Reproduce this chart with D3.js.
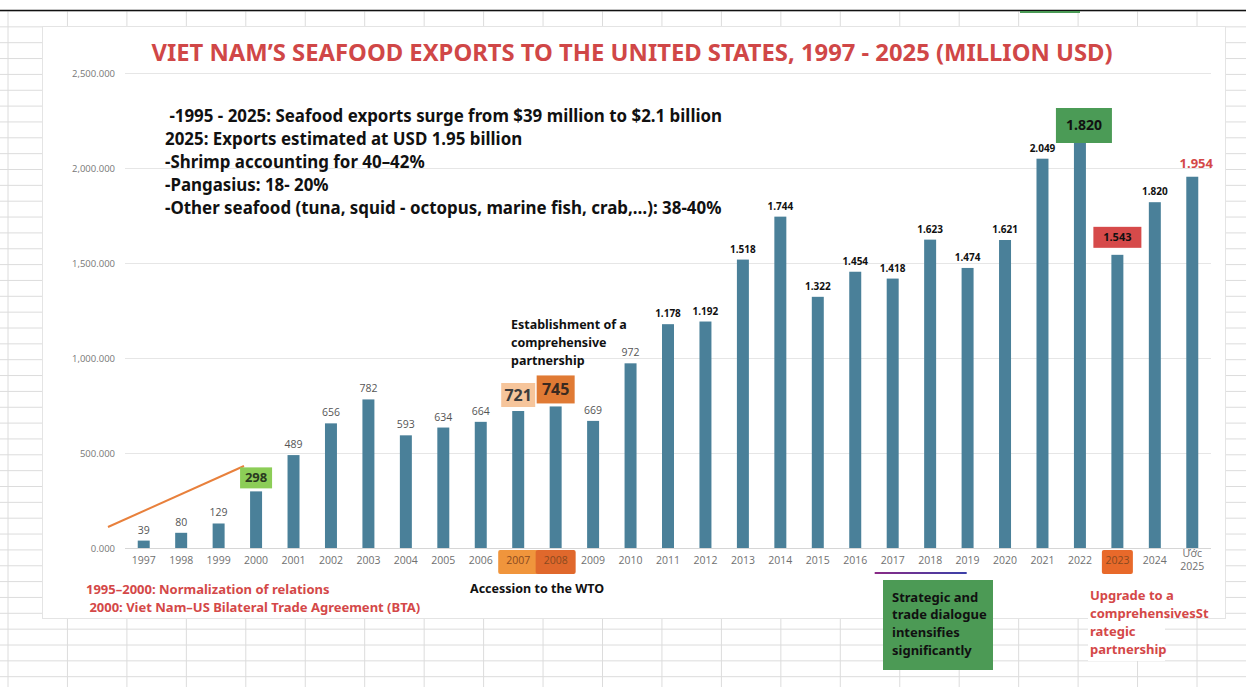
<!DOCTYPE html>
<html>
<head>
<meta charset="utf-8">
<script src="https://cdn.jsdelivr.net/npm/d3@7"></script>
<style>
  body { margin: 0; background: #fff; }
  svg { display: block; font-family: "Noto Sans", "Open Sans", sans-serif; }
</style>
</head>
<body>
<div id="chart"></div>
<script>
// data (million USD)
const years = ["1997","1998","1999","2000","2001","2002","2003","2004","2005","2006",
               "2007","2008","2009","2010","2011","2012","2013","2014","2015","2016",
               "2017","2018","2019","2020","2021","2022","2023","2024","Ước 2025"]
const exportsUS = [39,80,129,298,489,656,782,593,634,664,
                   721,745,669,972,1178,1192,1518,1744,1322,1454,
                   1418,1623,1474,1621,2049,2160,1543,1820,1954]
const valueLabels = ["39","80","129","298","489","656","782","593","634","664",
                     "721","745","669","972","1.178","1.192","1.518","1.744","1.322","1.454",
                     "1.418","1.623","1.474","1.621","2.049","1.820","1.543","1.820","1.954"]
const yTicks = [0,500,1000,1500,2000,2500]
const yTickLabels = ["0.000","500.000","1,000.000","1,500.000","2,000.000","2,500.000"]

const titleText = "VIET NAM\u2019S SEAFOOD EXPORTS TO THE UNITED STATES, 1997 - 2025 (MILLION USD)"
const notes = [" -1995 - 2025: Seafood exports surge from $39 million to $2.1 billion",
               "2025: Exports estimated at USD 1.95 billion",
               "-Shrimp accounting for 40\u201342%",
               "-Pangasius: 18- 20%",
               "-Other seafood (tuna, squid - octopus, marine fish, crab,\u2026): 38-40%"]
const btaNotes = ["1995\u20132000: Normalization of relations",
                  " 2000: Viet Nam\u2013US Bilateral Trade Agreement (BTA)"]
const partnershipNote = ["Establishment of a","comprehensive","partnership"]
const wtoNote = "Accession to the WTO"
const dialogueNote = ["Strategic and","trade dialogue","intensifies","significantly"]
const upgradeNote = ["Upgrade to a","comprehensivesSt","rategic","partnership"]

const W = 1246, H = 687
const plot = { left: 125, right: 1211, top: 73, bottom: 548 }

const svg = d3.select("#chart").append("svg")
    .attr("width", W).attr("height", H)

// ---- spreadsheet backdrop ----
const sheet = svg.append("g")
for (let yy = 11; yy < H; yy += 15.85) {
  sheet.append("line").attr("x1", 0).attr("x2", W).attr("y1", yy).attr("y2", yy)
       .attr("stroke", "#dcdcdc").attr("stroke-width", 1)
}
for (let xx = 8; xx < W; xx += 59.45) {
  sheet.append("line").attr("x1", xx).attr("x2", xx).attr("y1", 11).attr("y2", H)
       .attr("stroke", "#dcdcdc").attr("stroke-width", 1)
}
sheet.append("line").attr("x1", 0).attr("x2", W).attr("y1", 10.5).attr("y2", 10.5)
     .attr("stroke", "#111").attr("stroke-width", 1.5)
sheet.append("rect").attr("x", 1020).attr("y", 11).attr("width", 60).attr("height", 2)
     .attr("fill", "#4a9a55")

// chart area
svg.append("rect").attr("x", 42.5).attr("y", 26.5).attr("width", 1183).attr("height", 592)
   .attr("fill", "#fff").attr("stroke", "#e4e4e4")

// ---- scales ----
const x = d3.scaleBand().domain(years).range([plot.left, plot.right]).paddingInner(0.68).paddingOuter(0.34)
const y = d3.scaleLinear().domain([0, 2500]).range([plot.bottom, plot.top])

// grid + y axis
svg.append("g").selectAll("line").data(yTicks).join("line")
   .attr("x1", plot.left).attr("x2", plot.right)
   .attr("y1", d => y(d) + 0.5).attr("y2", d => y(d) + 0.5)
   .attr("stroke", d => d === 0 ? "#d6d6d6" : "#e6e6e6")

const yAxis = svg.append("g").attr("transform", "translate(" + plot.left + ",0)")
   .call(d3.axisLeft(y).tickValues(yTicks).tickFormat((d, i) => yTickLabels[i]).tickSize(0).tickPadding(10))
yAxis.select(".domain").remove()
yAxis.selectAll("text").attr("fill", "#777").attr("font-size", "9.5px")
     .attr("font-family", "'Open Sans', sans-serif")

// ---- highlighted x labels ----
const xCenter = d => x(d) + x.bandwidth() / 2
const xBoxes = [
  { year: "2007", fill: "#f0953c", w: 40 },
  { year: "2008", fill: "#e0682c", w: 40 },
  { year: "2023", fill: "#e8692a", w: 31 }
]
svg.append("g").selectAll("rect").data(xBoxes).join("rect")
   .attr("x", d => xCenter(d.year) - d.w / 2).attr("y", 550)
   .attr("width", d => d.w).attr("height", 24).attr("rx", 2)
   .attr("fill", d => d.fill)

// x axis
const xAxis = svg.append("g").attr("transform", "translate(0," + plot.bottom + ")")
   .call(d3.axisBottom(x).tickSize(0).tickPadding(9))
xAxis.select(".domain").remove()
xAxis.selectAll("text")
   .attr("fill", d => (d === "2007" || d === "2008" || d === "2023") ? "#8a4a20" : "#707070")
   .attr("font-size", "10.5px")
   .attr("font-family", "'Open Sans', sans-serif")
   .each(function (d) {
     const parts = d.split(" ")
     if (parts.length > 1) {
       const t = d3.select(this).text(null)
       parts.forEach((p, i) => t.append("tspan").attr("x", 0).attr("dy", i ? "1.25em" : 0).text(p))
     }
   })

// ---- bars ----
svg.append("g").selectAll("rect").data(exportsUS).join("rect")
   .attr("x", (d, i) => x(years[i]))
   .attr("y", d => y(d))
   .attr("width", x.bandwidth())
   .attr("height", d => plot.bottom - y(d))
   .attr("fill", "#4a8099")

// orange trend stroke near the early years
svg.append("line").attr("x1", 108).attr("y1", 527).attr("x2", 244).attr("y2", 466)
   .attr("stroke", "#e8803c").attr("stroke-width", 2)

// ---- value labels ----
// gap = space between bar top and bottom of the box
const boxed = {
  "2000": { fill: "#8ccd57", w: 32, h: 21, size: 13, color: "#2a3a20", gap: 3 },
  "2007": { fill: "#f6c59b", w: 34, h: 24, size: 16, color: "#3c3c3c", gap: 4 },
  "2008": { fill: "#e07a34", w: 38, h: 28, size: 16, color: "#3a2a20", gap: 3 },
  "2022": { fill: "#4b9b56", w: 56, h: 35, size: 14, color: "#111", top: 108, dx: 4 },
  "2023": { fill: "#d64a4a", w: 48, h: 21, size: 11, color: "#111", gap: 7 }
}
const vl = svg.append("g")
years.forEach((yr, i) => {
  const cx = xCenter(yr), top = y(exportsUS[i])
  const b = boxed[yr]
  if (b) {
    const bx = cx + (b.dx || 0)
    const by = b.top !== undefined ? b.top : top - b.gap - b.h
    vl.append("rect").attr("x", bx - b.w / 2).attr("y", by).attr("width", b.w).attr("height", b.h)
      .attr("fill", b.fill)
    vl.append("text").attr("x", bx).attr("y", by + b.h / 2).attr("dy", "0.35em")
      .attr("text-anchor", "middle").attr("font-weight", 700).attr("font-size", b.size + "px")
      .attr("fill", b.color).text(valueLabels[i])
    return
  }
  const last = i === years.length - 1
  const early = i < 14
  vl.append("text").attr("x", cx + (last ? 4 : 0)).attr("y", top - (last ? 9 : 7))
    .attr("text-anchor", "middle")
    .attr("font-weight", early ? 400 : 700)
    .attr("font-size", last ? "13px" : early ? "10.5px" : "10px")
    .attr("font-family", early ? "'Open Sans', sans-serif" : null)
    .attr("fill", last ? "#d44848" : early ? "#555" : "#111")
    .text(valueLabels[i])
})

// ---- title and notes ----
svg.append("text").attr("x", 632).attr("y", 53).attr("dy", "0.35em")
   .attr("text-anchor", "middle").attr("font-weight", 700).attr("font-size", "23.8px")
   .attr("fill", "#d04747").text(titleText)

const noteG = svg.append("g").attr("font-weight", 700).attr("font-size", "16.9px").attr("fill", "#111")
notes.forEach((t, i) => {
  noteG.append("text").attr("x", 165).attr("y", 116 + i * 23).attr("dy", "0.35em")
       .style("white-space", "pre").text(t)
})

function block(lines, x0, y0, step, color, size) {
  const g = svg.append("g").attr("font-weight", 700).attr("font-size", size + "px").attr("fill", color)
  lines.forEach((t, i) => g.append("text").attr("x", x0).attr("y", y0 + i * step).attr("dy", "0.35em")
       .style("white-space", "pre").text(t))
}
block(btaNotes, 86, 589, 18, "#d44848", 13)
block(partnershipNote, 511, 325, 18, "#111", 12.5)
block([wtoNote], 470, 589, 18, "#111", 12.5)

// 2017-2019 underline + green note
const grad = svg.append("defs").append("linearGradient").attr("id", "ul")
grad.append("stop").attr("offset", "0%").attr("stop-color", "#8a2a86")
grad.append("stop").attr("offset", "100%").attr("stop-color", "#3a40a8")
svg.append("rect").attr("x", xCenter("2017") - 18).attr("y", 572).attr("width", 92).attr("height", 2)
   .attr("fill", "url(#ul)")
svg.append("rect").attr("x", 883).attr("y", 580).attr("width", 110).attr("height", 90).attr("fill", "#4c9a55")
block(dialogueNote, 892, 597, 17.7, "#111", 13)

// upgrade note
svg.append("rect").attr("x", 1088).attr("y", 583).attr("width", 77).attr("height", 78).attr("fill", "#fff")
block(upgradeNote, 1090, 595, 18, "#d44848", 13)
</script>
</body>
</html>
